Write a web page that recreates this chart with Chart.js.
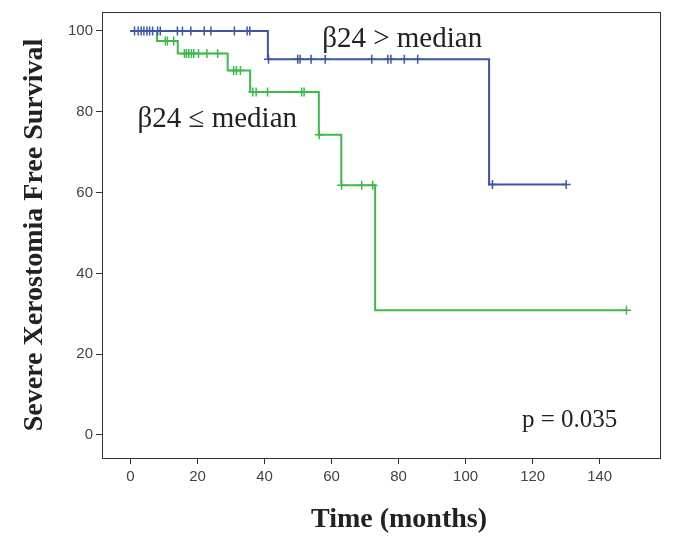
<!DOCTYPE html>
<html>
<head>
<meta charset="utf-8">
<script src="https://cdn.jsdelivr.net/npm/chart.js@4.4.1/dist/chart.umd.min.js"></script>
<style>
  html, body { margin: 0; padding: 0; background: #fff; }
  #wrap { width: 685px; height: 540px; }
</style>
</head>
<body>
<div id="wrap"><canvas id="km" width="685" height="540"></canvas></div>
<script>
// beta24 > median (blue)
const highTimes = [0, 41, 107];
const highSurv = [100, 93, 62];
const highEnd = 130;
const highCensor = [1.2, 2.3, 3.2, 4.0, 4.9, 5.7, 6.6, 8.1, 8.9, 14, 15.5, 18, 22, 24, 31, 34.8, 35.6,
  41.2, 49.9, 50.6, 53.9, 58.1, 72, 76.8, 77.7, 81.7, 85.7, 108, 130];

// beta24 <= median (green)
const lowTimes = [0, 7.9, 14.1, 29.0, 35.7, 56.2, 62.9, 73.0];
const lowSurv = [100, 97.5, 94.4, 90.2, 84.9, 74.3, 61.8, 30.9];
const lowEnd = 148;
const lowCensor = [10.4, 11.0, 12.9, 16.1, 16.7, 17.4, 18.2, 18.9, 20.3, 22.8, 26.0, 30.8, 31.6, 32.8,
  36.5, 37.5, 40.9, 51.1, 51.8, 56.3, 63.0, 69, 72.3, 148];

const xTicks = [0, 20, 40, 60, 80, 100, 120, 140];
const yTicks = [0, 20, 40, 60, 80, 100];

const blue = '#3d55a8';
const green = '#3dba4c';

function stepPoints(times, surv, end) {
  const pts = times.map((t, i) => ({x: t, y: surv[i]}));
  pts.push({x: end, y: surv[surv.length - 1]});
  return pts;
}
function survAt(times, surv, t) {
  let s = surv[0];
  for (let i = 0; i < times.length; i++) if (times[i] <= t) s = surv[i];
  return s;
}
function censorPoints(times, surv, cens) {
  return cens.map(t => ({x: t, y: survAt(times, surv, t)}));
}

const serif = '"Liberation Serif", "DejaVu Serif", serif';

const extras = {
  id: 'extras',
  afterDraw(chart) {
    const {ctx, chartArea: a, scales: {x, y}} = chart;
    ctx.save();
    ctx.strokeStyle = '#333';
    ctx.lineWidth = 1;
    ctx.strokeRect(a.left + 0.5, a.top + 0.5, a.right - a.left, a.bottom - a.top);

    ctx.fillStyle = '#222';
    ctx.textBaseline = 'middle';
    ctx.textAlign = 'left';
    ctx.font = '29px ' + serif;
    ctx.fillText('β24 > median', x.getPixelForValue(57.2), y.getPixelForValue(98));
    ctx.fillText('β24 ≤ median', x.getPixelForValue(2.1), y.getPixelForValue(78.2));
    ctx.font = '25px ' + serif;
    ctx.fillText('p = 0.035', x.getPixelForValue(116.8), y.getPixelForValue(3.7));

    ctx.font = 'bold 28px ' + serif;
    ctx.textAlign = 'center';
    ctx.fillText('Time (months)', 399, 520);
    ctx.translate(35, (a.top + a.bottom) / 2);
    ctx.rotate(-Math.PI / 2);
    ctx.fillText('Severe Xerostomia Free Survival', 0, 0);
    ctx.restore();
  }
};

const tickFont = {family: '"Liberation Sans", Arial, sans-serif', size: 15};

new Chart(document.getElementById('km'), {
  type: 'scatter',
  data: {
    datasets: [
      {
        data: censorPoints(highTimes, highSurv, highCensor),
        showLine: false, pointStyle: 'cross', pointRadius: 4.5,
        borderColor: blue, borderWidth: 1.5
      },
      {
        data: stepPoints(highTimes, highSurv, highEnd),
        showLine: true, stepped: true, pointRadius: 0,
        borderColor: blue, borderWidth: 2
      },
      {
        data: censorPoints(lowTimes, lowSurv, lowCensor),
        showLine: false, pointStyle: 'cross', pointRadius: 4.5,
        borderColor: green, borderWidth: 1.5
      },
      {
        data: stepPoints(lowTimes, lowSurv, lowEnd),
        showLine: true, stepped: true, pointRadius: 0,
        borderColor: green, borderWidth: 2
      }
    ]
  },
  options: {
    responsive: false,
    animation: false,
    devicePixelRatio: 1,
    layout: {padding: {top: 12, right: 25, left: 0, bottom: 0}},
    plugins: {legend: {display: false}, tooltip: {enabled: false}},
    scales: {
      x: {
        type: 'linear', min: -8.5, max: 158,
        afterBuildTicks: s => { s.ticks = xTicks.map(v => ({value: v})); },
        afterFit: s => { s.height = 82; },
        grid: {display: true, drawOnChartArea: false, drawTicks: true, tickLength: 6, color: '#333'},
        border: {display: false},
        ticks: {font: tickFont, color: '#444', padding: 4, maxRotation: 0}
      },
      y: {
        type: 'linear', min: -5.7, max: 104.7,
        afterBuildTicks: s => { s.ticks = yTicks.map(v => ({value: v})); },
        afterFit: s => { s.width = 102; },
        grid: {display: true, drawOnChartArea: false, drawTicks: true, tickLength: 6, color: '#333'},
        border: {display: false},
        ticks: {font: tickFont, color: '#444', padding: 3}
      }
    }
  },
  plugins: [extras]
});
</script>
</body>
</html>
